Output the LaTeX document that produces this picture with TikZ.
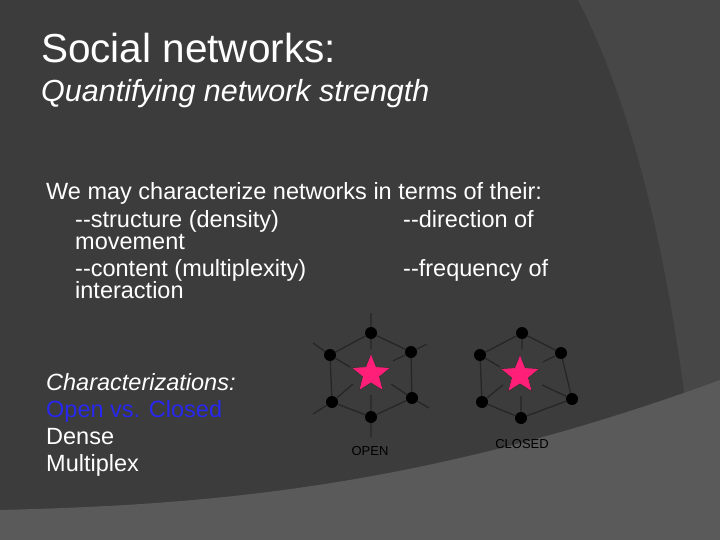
\documentclass[tikz,border=0pt]{standalone}
\usepackage{fontspec}
\setmainfont{Liberation Sans}
\usetikzlibrary{shapes.geometric}
\definecolor{bgd}{HTML}{3C3C3C}
\definecolor{bgm}{HTML}{474747}
\definecolor{bgl}{HTML}{5A5A5A}
\definecolor{starc}{HTML}{FF1E78}
\definecolor{openblue}{HTML}{2828F0}
\tikzset{
 dot/.style={circle,fill=black,inner sep=0pt,minimum size=12pt},
 edge/.style={draw=black!85,line width=1.3pt},
 star node/.style={star,star points=5,star point ratio=2.3,fill=starc,draw=black!80,line width=0.6pt,minimum size=41pt,inner sep=0pt},
 txt/.style={text=white,anchor=base west,inner sep=0pt,font=\fontsize{23.5}{26}\selectfont},
 lab/.style={text=black,font=\fontsize{13}{14}\selectfont,inner sep=0pt}
}
\begin{document}
\begin{tikzpicture}[x=1pt,y=-1pt]
\fill[bgd] (0,0) rectangle (720,540);
\useasboundingbox (0,0) rectangle (720,540);
\fill[bgm] (578,0) .. controls (640,120) and (680,300) .. (700,540) -- (720,540) -- (720,0) -- cycle;
\fill[bgl] (0,510) .. controls (200,505) and (420,490) .. (720,380) -- (720,540) -- (0,540) -- cycle;
% titles
\node[txt,font=\fontsize{40.5}{44}\selectfont] (t1) at (41,63) {Social networks:};
\node[txt,font=\fontsize{30.5}{34}\selectfont\itshape] (t2) at (41,102) {Quantifying network strength};
\node[txt] (b1) at (46,200) {We may characterize networks in terms of their:};
\node[txt] (b2) at (75,227) {{-}{-}structure (density)};
\node[txt] (b3) at (403,227) {{-}{-}direction of};
\node[txt] (b4) at (75,249) {movement};
\node[txt] (b5) at (75,276) {{-}{-}content (multiplexity)};
\node[txt] (b6) at (403,276) {{-}{-}frequency of};
\node[txt] (b7) at (75,298) {interaction};
\node[txt,font=\fontsize{23.5}{26}\selectfont\itshape] (c1) at (46,390) {Characterizations:};
\node[txt,text=openblue] (c2) at (46,417) {Open vs. Closed};
\node[txt] (c3) at (46,444) {Dense};
\node[txt] (c4) at (46,471) {Multiplex};
% OPEN network
\node[dot] (ot) at (371,333) {};
\node[dot] (oul) at (330,355) {};
\node[dot] (our) at (411,352) {};
\node[dot] (olr) at (412,398) {};
\node[dot] (ob) at (371,417) {};
\node[dot] (oll) at (332,402) {};
\draw[edge] (ot)--(oul)--(oll)--(ob)--(olr)--(our)--(ot);
\coordinate (o1) at (371,313); \coordinate (o2) at (313,343); \coordinate (o3) at (427,344);
\coordinate (o4) at (429,408); \coordinate (o5) at (371,437); \coordinate (o6) at (313,414);
\coordinate (i1) at (371,349); \coordinate (i2) at (350,367); \coordinate (i3) at (393,361);
\coordinate (i4) at (391,384); \coordinate (i5) at (371,395); \coordinate (i6) at (353,384);
\draw[edge] (o1)--(ot)--(i1) (o2)--(oul)--(i2) (o3)--(our)--(i3) (o4)--(olr)--(i4) (o5)--(ob)--(i5) (o6)--(oll)--(i6);
\node[star node] (os) at (371,374) {};
\node[lab] (ol) at (370,451) {OPEN};
% CLOSED network
\node[dot] (ct) at (522,333) {};
\node[dot] (cul) at (480,355) {};
\node[dot] (cur) at (561,353) {};
\node[dot] (clr) at (572,399) {};
\node[dot] (cb) at (521,418) {};
\node[dot] (cll) at (482,402) {};
\draw[edge] (ct)--(cul)--(cll)--(cb)--(clr)--(cur)--(ct);
\coordinate (j1) at (522,349); \coordinate (j2) at (500,367); \coordinate (j3) at (543,362);
\coordinate (j4) at (542,385); \coordinate (j5) at (521,396); \coordinate (j6) at (503,385);
\draw[edge] (ct)--(j1) (cul)--(j2) (cur)--(j3) (clr)--(j4) (cb)--(j5) (cll)--(j6);
\node[star node] (cs) at (520,375) {};
\node[lab] (cl) at (522,444) {CLOSED};
\end{tikzpicture}
\end{document}
